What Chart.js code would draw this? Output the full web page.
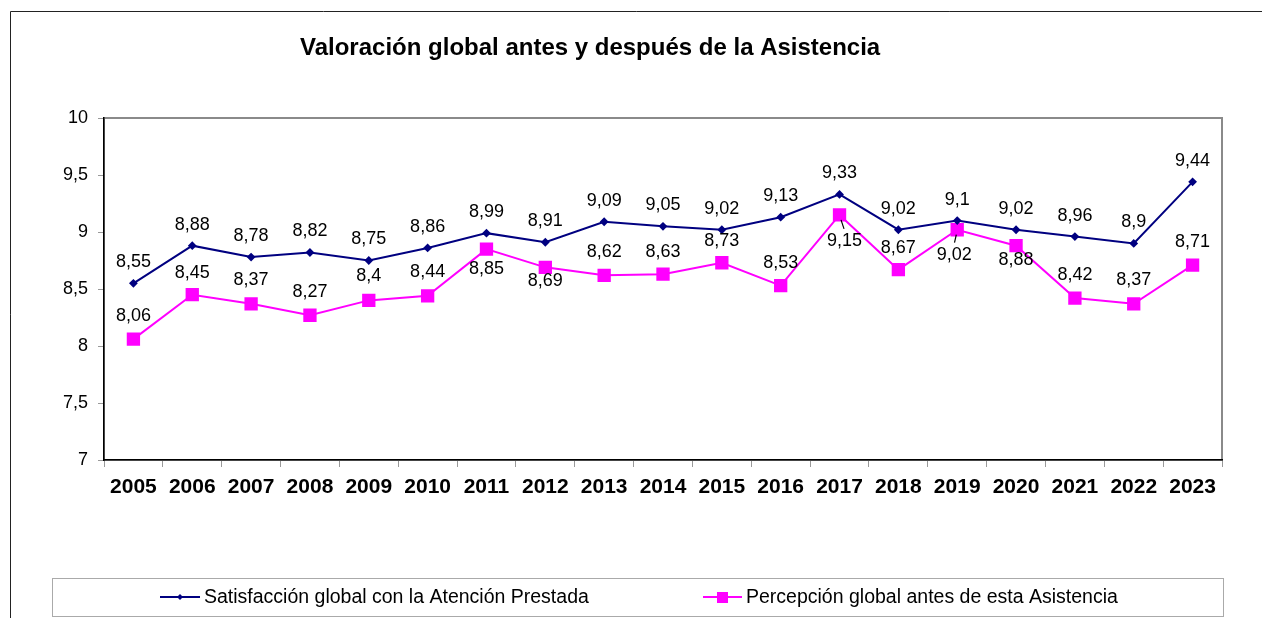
<!DOCTYPE html>
<html>
<head>
<meta charset="utf-8">
<script src="https://cdn.jsdelivr.net/npm/chart.js@4/dist/chart.umd.min.js"></script>
<style>
  html, body { margin: 0; padding: 0; background: #fff; }
  #wrap { width: 1262px; height: 618px; position: relative; }
</style>
</head>
<body>
<div id="wrap"><canvas id="myChart" width="1262" height="618"></canvas></div>
<script>
// data
var years = ['2005','2006','2007','2008','2009','2010','2011','2012','2013','2014',
             '2015','2016','2017','2018','2019','2020','2021','2022','2023'];
var satisfaccion = [8.55, 8.88, 8.78, 8.82, 8.75, 8.86, 8.99, 8.91, 9.09, 9.05,
                    9.02, 9.13, 9.33, 9.02, 9.1, 9.02, 8.96, 8.9, 9.44];
var percepcion = [8.06, 8.45, 8.37, 8.27, 8.4, 8.44, 8.85, 8.69, 8.62, 8.63,
                  8.73, 8.53, 9.15, 8.67, 9.02, 8.88, 8.42, 8.37, 8.71];
var yTicks = [7, 7.5, 8, 8.5, 9, 9.5, 10];

var titleText = 'Valoración global antes y después de la Asistencia';
var serieNames = ['Satisfacción global con la Atención Prestada', 'Percepción global antes de esta Asistencia'];

// label placement (style only): vertical offset of the value label from its point
var blueLabelDy = -21;
var pinkLabelDy = [-23, -22, -24, -23, -24, -24, 20, 14, -23, -22,
                   -22, -23, 26, -22, 25, 14, -23, -24, -23];
var pinkLabelDx = [0,0,0,0,0,0,0,0,0,0,0,0,5,0,-3,0,0,0,0];
var pinkLeader = [12, 14]; // indexes with a small leader line

var FONT = "'Liberation Sans', Arial, sans-serif";
var fmt = function(v){ return String(v).replace('.', ','); };

// frame, plot border, title and legend
var decoPlugin = {
  id: 'deco',
  beforeDraw: function(chart){
    var ctx = chart.ctx, a = chart.chartArea;
    ctx.save();
    ctx.fillStyle = '#fff';
    ctx.fillRect(0, 0, chart.width, chart.height);
    // outer frame
    ctx.strokeStyle = '#222';
    ctx.lineWidth = 1;
    ctx.beginPath();
    ctx.moveTo(10.5, 618); ctx.lineTo(10.5, 11.5); ctx.lineTo(1262, 11.5);
    ctx.stroke();
    // plot area border (grey top/right)
    ctx.strokeStyle = '#8a8a8a';
    ctx.lineWidth = 2;
    ctx.strokeRect(a.left, a.top, a.right - a.left, a.bottom - a.top);
    // title
    ctx.fillStyle = '#000';
    ctx.font = 'bold 24px ' + FONT;
    ctx.textAlign = 'left';
    ctx.textBaseline = 'middle';
    ctx.fillText(titleText, 300, 48);
    // legend box
    ctx.strokeStyle = '#aaa';
    ctx.lineWidth = 1;
    ctx.strokeRect(52.5, 578.5, 1171, 38);
    var ly = 597;
    ctx.lineWidth = 2;
    ctx.strokeStyle = '#000080';
    ctx.beginPath(); ctx.moveTo(160, ly); ctx.lineTo(200, ly); ctx.stroke();
    ctx.fillStyle = '#000080';
    ctx.beginPath();
    ctx.moveTo(180, ly - 3); ctx.lineTo(183, ly); ctx.lineTo(180, ly + 3); ctx.lineTo(177, ly);
    ctx.closePath(); ctx.fill();
    ctx.strokeStyle = '#ff00ff';
    ctx.beginPath(); ctx.moveTo(703, ly); ctx.lineTo(742, ly); ctx.stroke();
    ctx.fillStyle = '#ff00ff';
    ctx.fillRect(717, ly - 5, 11, 11);
    ctx.fillStyle = '#000';
    ctx.font = '19.5px ' + FONT;
    ctx.fillText(serieNames[0], 204, ly + 1);
    ctx.fillText(serieNames[1], 746, ly + 1);
    ctx.restore();
  },
  afterDatasetsDraw: function(chart){
    var ctx = chart.ctx;
    ctx.save();
    ctx.font = '18px ' + FONT;
    ctx.fillStyle = '#000';
    ctx.textAlign = 'center';
    ctx.textBaseline = 'middle';
    chart.getDatasetMeta(0).data.forEach(function(p, i){
      ctx.fillText(fmt(satisfaccion[i]), p.x, p.y + blueLabelDy);
    });
    chart.getDatasetMeta(1).data.forEach(function(p, i){
      var lx = p.x + pinkLabelDx[i], ly = p.y + pinkLabelDy[i];
      ctx.fillText(fmt(percepcion[i]), lx, ly);
      if (pinkLeader.indexOf(i) >= 0) {
        ctx.strokeStyle = '#000';
        ctx.lineWidth = 1.2;
        ctx.beginPath();
        ctx.moveTo(p.x + (lx - p.x) * 0.3, p.y + 5);
        ctx.lineTo(p.x + (lx - p.x) * 0.9, ly - 12);
        ctx.stroke();
      }
    });
    ctx.restore();
  }
};

var chart = new Chart(document.getElementById('myChart').getContext('2d'), {
  type: 'line',
  data: {
    labels: years,
    datasets: [{
      label: serieNames[0],
      data: satisfaccion,
      borderColor: '#000080',
      backgroundColor: '#000080',
      borderWidth: 2,
      pointStyle: 'rectRot',
      pointRadius: 3,
      tension: 0
    }, {
      label: serieNames[1],
      data: percepcion,
      borderColor: '#ff00ff',
      backgroundColor: '#ff00ff',
      borderWidth: 2,
      pointStyle: 'rect',
      pointRadius: 8,
      tension: 0
    }]
  },
  options: {
    responsive: false,
    animation: false,
    devicePixelRatio: 1,
    layout: { padding: { left: 10, right: 40, top: 118, bottom: 118 } },
    plugins: { legend: { display: false }, title: { display: false }, tooltip: { enabled: false } },
    scales: {
      x: {
        offset: true,
        grid: { offset: true, drawOnChartArea: false, color: '#999', tickLength: 7 },
        border: { color: '#000', width: 1.5 },
        ticks: { color: '#000', font: { family: FONT, size: 21, weight: 'bold' }, padding: 8, maxRotation: 0, autoSkip: false },
        afterFit: function(s){ s.height = 40; }
      },
      y: {
        min: 7, max: 10,
        afterBuildTicks: function(s){ s.ticks = yTicks.map(function(v){ return { value: v }; }); },
        grid: { drawOnChartArea: false, color: '#999', tickLength: 6 },
        border: { color: '#000', width: 1.5 },
        ticks: { color: '#000', font: { family: FONT, size: 18 }, padding: 10, callback: function(v){ return fmt(v); } },
        afterFit: function(s){ s.width = 94; }
      }
    }
  },
  plugins: [decoPlugin]
});
</script>
</body>
</html>
